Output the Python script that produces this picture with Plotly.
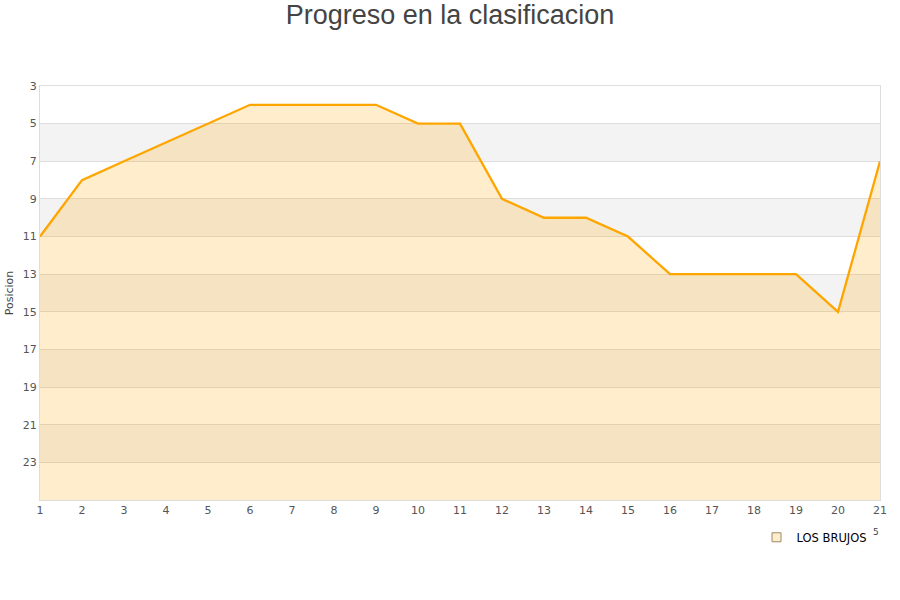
import plotly.graph_objects as go

jornadas = list(range(1, 22))
posiciones = [11, 8, 7, 6, 5, 4, 4, 4, 4, 5, 5, 9, 10, 10, 11, 13, 13, 13, 13, 15, 7]
y_ticks = [3, 5, 7, 9, 11, 13, 15, 17, 19, 21, 23]
y_min, y_max = 3, 25
equipo = 'LOS BRUJOS'

font_family = 'DejaVu Sans'

fig = go.Figure()

# baseline at the bottom of the (reversed) axis so the area fills downwards
fig.add_trace(go.Scatter(
    x=jornadas, y=[y_max] * len(jornadas),
    mode='lines', line=dict(width=0), showlegend=False, hoverinfo='skip',
))
fig.add_trace(go.Scatter(
    x=jornadas, y=posiciones,
    mode='lines', fill='tonexty', fillcolor='rgba(255,165,0,0.2)',
    line=dict(color='#FFA500', width=2.3),
    name=equipo, showlegend=False,
))
# legend entry only
fig.add_trace(go.Scatter(
    x=[None], y=[None], mode='markers', name=equipo,
    marker=dict(symbol='square', size=9, color='#FFEDCC',
                line=dict(color='#9a8a6a', width=1)),
))

# alternating background bands
shapes = []
for i, lo in enumerate(range(y_min, y_max, 2)):
    if i % 2 == 1:
        shapes.append(dict(type='rect', xref='paper', x0=0, x1=1, yref='y',
                           y0=lo, y1=lo + 2, fillcolor='#f3f3f3',
                           line=dict(width=0), layer='below'))
fig.update_layout(shapes=shapes)

fig.update_xaxes(
    range=[1, 21], tickmode='array', tickvals=jornadas,
    showgrid=False, zeroline=False, automargin=False,
    showline=True, linecolor='#dddddd', mirror=True,
    tickfont=dict(size=11, color='#555555'),
    ticks='', ticklen=0,
)
fig.update_yaxes(
    range=[y_max, y_min], tickmode='array', tickvals=y_ticks,
    showgrid=True, gridcolor='#dddddd', gridwidth=1, zeroline=False,
    showline=True, linecolor='#dddddd', mirror=True, automargin=False,
    tickfont=dict(size=11, color='#555555'),
    title_text='Posicion', title_font=dict(size=11, color='#444444'),
    title_standoff=6, layer='below traces',
)

fig.add_annotation(text='5', xref='paper', yref='paper', x=1.001, y=-0.094,
                   showarrow=False, font=dict(size=9, color='#444444'))

fig.update_layout(
    width=900, height=600,
    paper_bgcolor='white', plot_bgcolor='white',
    title=dict(text='Progreso en la clasificacion', x=0.5, xanchor='center',
               y=0.975, yanchor='middle',
               font=dict(family='Liberation Sans', size=27, color='#444444')),
    font=dict(family=font_family),
    margin=dict(l=40, r=20, t=86, b=100),
    legend=dict(x=0.853, y=-0.055, xanchor='left', yanchor='top',
                font=dict(size=11.5, color='#000000'), bgcolor='rgba(0,0,0,0)'),
)

# drop the default page margin so the figure sits at the window's corner
fig.write_html('out.html', config={'displayModeBar': False},
               post_script="document.body.style.margin='0';")
